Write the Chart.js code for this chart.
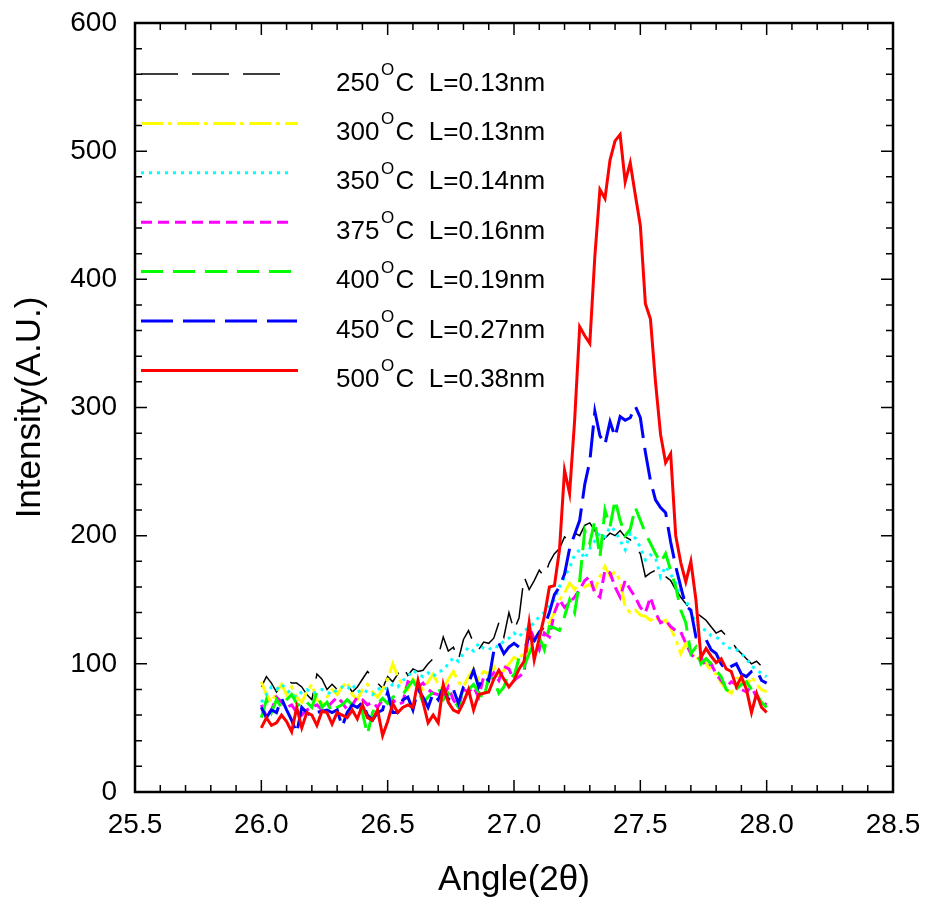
<!DOCTYPE html>
<html>
<head>
<meta charset="utf-8">
<script src="https://cdn.jsdelivr.net/npm/chart.js@4.4.0/dist/chart.umd.min.js"></script>
<style>
    body { margin: 0; background: #fff; }
    canvas { display: block; }
</style>
</head>
<body>
<canvas id="grafico" width="928" height="908"></canvas>
<script>
// angulo 2theta, paso de 0.02 entre 26.0 y 28.0
const angulos = Array.from({ length: 101 }, (_, i) => Number((26 + i * 0.02).toFixed(2)));
const temperaturas = ["250", "300", "350", "375", "400", "450", "500"];
const tamanos = ["0.13", "0.13", "0.14", "0.16", "0.19", "0.27", "0.38"];
const ticksX = [25.5, 26.0, 26.5, 27.0, 27.5, 28.0, 28.5];
const ticksY = [0, 100, 200, 300, 400, 500, 600];

const int250 = [82, 90, 85, 78, 84, 88, 85, 85, 82, 76, 72, 92, 88, 80, 84, 80, 85, 84, 78, 82,
    88, 94, 90, 85, 81, 90, 86, 92, 98, 91, 96, 94, 95, 100, 104, 106, 121, 110, 113, 103,
    119, 126, 116, 111, 117, 116, 120, 132, 121, 140, 126, 136, 168, 158, 165, 173, 168, 179, 186, 190,
    199, 196, 202, 200, 208, 210, 204, 194, 198, 202, 200, 204, 199, 197, 191, 186, 168, 171, 173, 168,
    168, 165, 158, 152, 147, 142, 140, 137, 134, 129, 124, 126, 122, 118, 112, 108, 104, 100, 102, 98, 95];
const int300 = [86, 76, 70, 78, 84, 76, 82, 74, 70, 78, 84, 72, 68, 74, 80, 76, 82, 86, 76, 72,
    80, 84, 78, 74, 80, 88, 100, 90, 83, 80, 88, 84, 80, 86, 92, 84, 80, 88, 94, 86,
    82, 90, 96, 88, 94, 92, 98, 90, 95, 100, 105, 103, 110, 111, 119, 126, 129, 132, 140, 150,
    155, 163, 158, 165, 160, 162, 158, 168, 176, 168, 172, 165, 144, 140, 142, 138, 137, 134, 137, 132,
    134, 128, 119, 108, 116, 110, 103, 106, 100, 95, 92, 85, 80, 77, 90, 86, 82, 90, 84, 80, 78];
const int350 = [70, 76, 82, 80, 84, 80, 76, 74, 78, 80, 77, 78, 80, 78, 76, 80, 82, 80, 84, 78,
    80, 78, 76, 80, 82, 80, 84, 82, 87, 90, 95, 92, 90, 93, 90, 94, 95, 100, 105, 102,
    108, 113, 110, 116, 112, 111, 114, 113, 118, 120, 124, 121, 126, 128, 132, 137, 140, 146, 150, 160,
    168, 175, 185, 189, 182, 190, 196, 202, 199, 207, 204, 196, 189, 202, 198, 191, 181, 185, 183, 168,
    176, 170, 163, 155, 150, 140, 132, 128, 126, 122, 121, 118, 113, 112, 111, 108, 104, 98, 96, 92, 90];
const int375 = [68, 59, 64, 74, 70, 66, 68, 62, 60, 64, 66, 68, 64, 66, 70, 74, 70, 64, 68, 74,
    72, 68, 70, 66, 72, 70, 72, 68, 70, 86, 84, 82, 85, 80, 77, 76, 74, 82, 72, 66,
    80, 78, 82, 74, 90, 88, 93, 87, 98, 96, 87, 90, 93, 130, 119, 111, 124, 121, 140, 150,
    144, 148, 152, 158, 165, 168, 155, 152, 173, 171, 160, 152, 165, 158, 152, 144, 140, 152, 140, 132,
    134, 129, 126, 125, 116, 108, 103, 105, 98, 100, 92, 87, 82, 86, 84, 80, 78, 82, 74, 70, 68];
const int400 = [58, 72, 62, 72, 66, 72, 76, 69, 66, 70, 66, 78, 66, 70, 62, 66, 68, 72, 68, 70,
    62, 45, 62, 69, 73, 69, 74, 76, 76, 82, 87, 80, 70, 74, 78, 82, 72, 77, 72, 66,
    82, 80, 84, 78, 72, 90, 88, 77, 82, 93, 90, 105, 98, 108, 116, 121, 111, 129, 128, 126,
    137, 150, 140, 165, 204, 194, 212, 183, 220, 207, 228, 212, 200, 205, 222, 212, 202, 194, 186, 179,
    186, 173, 160, 142, 132, 108, 113, 100, 104, 100, 95, 90, 80, 77, 80, 84, 86, 80, 76, 70, 66];
const int450 = [66, 58, 64, 62, 73, 64, 56, 46, 66, 62, 59, 62, 63, 64, 62, 64, 51, 62, 68, 66,
    70, 60, 56, 62, 64, 78, 62, 62, 72, 74, 64, 80, 74, 66, 77, 72, 82, 72, 80, 69,
    82, 85, 95, 82, 90, 87, 110, 116, 108, 113, 116, 113, 111, 121, 118, 125, 129, 140, 154, 160,
    170, 190, 201, 212, 240, 258, 297, 278, 271, 289, 277, 293, 290, 292, 301, 292, 265, 243, 228, 222,
    218, 195, 176, 160, 145, 142, 121, 120, 119, 111, 108, 100, 95, 98, 100, 92, 90, 94, 95, 87, 85];
const int500 = [50, 58, 52, 54, 60, 55, 47, 66, 50, 62, 60, 52, 63, 62, 53, 62, 60, 58, 64, 57,
    68, 58, 56, 64, 44, 55, 69, 62, 66, 68, 66, 87, 70, 54, 60, 54, 84, 70, 64, 62,
    70, 80, 64, 76, 77, 78, 88, 95, 88, 82, 87, 96, 102, 132, 103, 120, 137, 160, 161, 189,
    251, 233, 290, 363, 356, 350, 418, 470, 463, 493, 508, 513, 476, 491, 466, 442, 381, 369, 320, 279,
    257, 264, 200, 179, 164, 180, 150, 105, 112, 106, 101, 104, 96, 94, 82, 90, 80, 62, 77, 66, 62];

const series = [int250, int300, int350, int375, int400, int450, int500];
const colores = ["#000000", "#ffff00", "#00ffff", "#ff00ff", "#00ff00", "#0000ff", "#ff0000"];
const trazos = [[37, 14], [22, 5, 4, 5], [3, 5], [11, 6], [22, 10], [32, 10], []];
const grosores = [1.5, 3, 3, 3, 3, 3, 3];
const largosLeyenda = [141, 157, 152, 151, 152, 156, 157];

const fuente = "'Liberation Sans', Arial, sans-serif";

function puntos(valores) {
    return valores.map((v, i) => {
        return { x: angulos[i], y: v };
    });
}

function armarDatasets() {
    return series.map((valores, i) => {
        return {
            label: temperaturas[i] + "°C L=" + tamanos[i] + "nm",
            data: puntos(valores),
            borderColor: colores[i],
            borderWidth: grosores[i],
            borderDash: trazos[i],
            pointRadius: 0,
            fill: false,
            order: series.length - i
        };
    });
}

// marco y marcas hacia adentro en los cuatro lados
const marco = {
    id: "marco",
    afterDraw(chart) {
        const { ctx, chartArea, scales } = chart;
        ctx.save();
        ctx.strokeStyle = "#000";
        ctx.lineWidth = 1.5;
        ctx.beginPath();
        for (let k = 0; k <= 30; k++) {
            const px = scales.x.getPixelForValue(25.5 + k * 0.1);
            const largo = k % 5 === 0 ? 12 : 7;
            ctx.moveTo(px, chartArea.bottom);
            ctx.lineTo(px, chartArea.bottom - largo);
            ctx.moveTo(px, chartArea.top);
            ctx.lineTo(px, chartArea.top + largo);
        }
        for (let k = 0; k <= 30; k++) {
            const py = scales.y.getPixelForValue(k * 20);
            const largo = k % 5 === 0 ? 12 : 7;
            ctx.moveTo(chartArea.left, py);
            ctx.lineTo(chartArea.left + largo, py);
            ctx.moveTo(chartArea.right, py);
            ctx.lineTo(chartArea.right - largo, py);
        }
        ctx.stroke();
        ctx.lineWidth = 2.5;
        ctx.strokeRect(chartArea.left, chartArea.top, chartArea.right - chartArea.left, chartArea.bottom - chartArea.top);
        ctx.restore();
    }
};

// leyenda con el superindice O
const leyenda = {
    id: "leyenda",
    afterDraw(chart) {
        const { ctx, chartArea } = chart;
        chart.data.datasets.forEach((ds, i) => {
            const y = chartArea.top + 51 + i * 49.4;
            const x0 = chartArea.left + 6;
            ctx.save();
            ctx.strokeStyle = ds.borderColor;
            ctx.lineWidth = ds.borderWidth;
            ctx.setLineDash(ds.borderDash);
            ctx.beginPath();
            ctx.moveTo(x0, y);
            ctx.lineTo(x0 + largosLeyenda[i], y);
            ctx.stroke();
            ctx.setLineDash([]);
            ctx.fillStyle = "#000";
            ctx.textBaseline = "alphabetic";
            let x = chartArea.left + 201;
            const base = y + 16.5;
            ctx.font = "26px " + fuente;
            ctx.fillText(temperaturas[i], x, base);
            x += ctx.measureText(temperaturas[i]).width + 1.5;
            ctx.font = "17px " + fuente;
            ctx.fillText("O", x, y + 1);
            x += ctx.measureText("O").width + 1.5;
            ctx.font = "26px " + fuente;
            ctx.fillText("C  L=" + tamanos[i] + "nm", x, base);
            ctx.restore();
        });
    }
};

function cargarGrafico() {
    const lienzo = document.getElementById("grafico");
    const config = {
        type: "line",
        data: { datasets: armarDatasets() },
        options: {
            responsive: false,
            animation: false,
            layout: { padding: { left: 0, right: 35, top: 23, bottom: 0 } },
            plugins: {
                legend: { display: false },
                tooltip: { enabled: false }
            },
            elements: { line: { tension: 0 } },
            scales: {
                x: {
                    type: "linear",
                    min: 25.5,
                    max: 28.5,
                    grid: { display: false, drawTicks: false },
                    border: { display: false },
                    afterBuildTicks: (s) => { s.ticks = ticksX.map((v) => ({ value: v })); },
                    afterFit: (s) => {
                        s.height = 116;
                        s.paddingLeft = 0;
                        s.paddingRight = 0;
                    },
                    ticks: {
                        padding: 16,
                        color: "#000",
                        maxRotation: 0,
                        autoSkip: false,
                        font: { family: fuente, size: 28 },
                        callback: (v) => Number(v).toFixed(1)
                    },
                    title: {
                        display: true,
                        text: "Angle(2θ)",
                        color: "#000",
                        font: { family: fuente, size: 35 },
                        padding: { top: 0, bottom: 7 }
                    }
                },
                y: {
                    min: 0,
                    max: 600,
                    grid: { display: false, drawTicks: false },
                    border: { display: false },
                    afterBuildTicks: (s) => { s.ticks = ticksY.map((v) => ({ value: v })); },
                    afterFit: (s) => {
                        s.width = 135;
                        s.paddingTop = 0;
                        s.paddingBottom = 0;
                    },
                    ticks: {
                        padding: 18,
                        color: "#000",
                        font: { family: fuente, size: 28 }
                    },
                    title: {
                        display: true,
                        text: "Intensity(A.U.)",
                        color: "#000",
                        font: { family: fuente, size: 35 },
                        padding: { top: 9, bottom: 0 }
                    }
                }
            }
        },
        plugins: [marco, leyenda]
    };
    new Chart(lienzo, config);
}

cargarGrafico();
</script>
</body>
</html>
